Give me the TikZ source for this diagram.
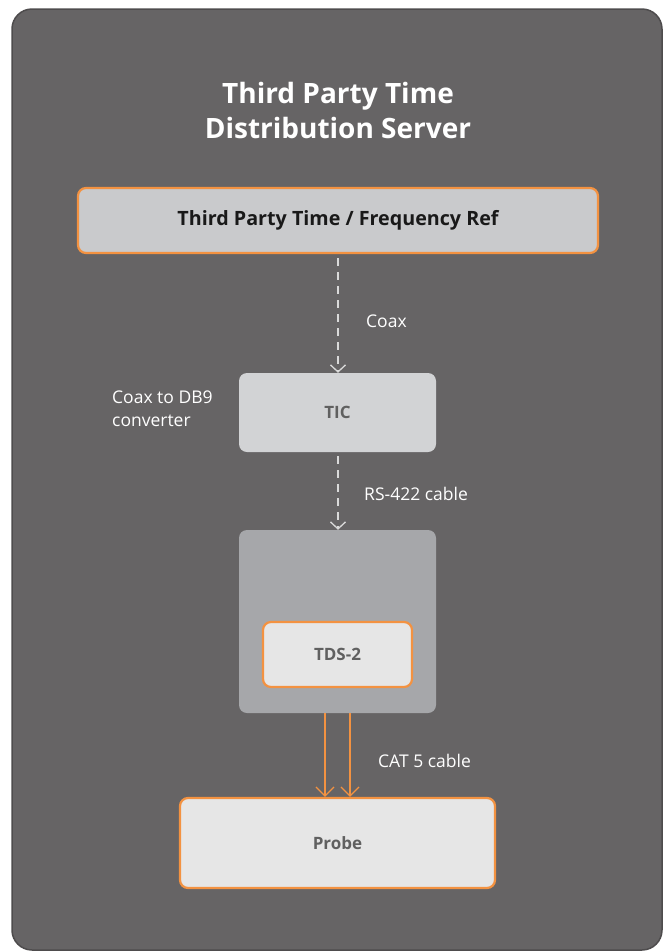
\documentclass[tikz,border=0pt]{standalone}
\usepackage{fontspec}
\setmainfont{Open Sans}
\usetikzlibrary{arrows.meta}
\definecolor{bgdark}{HTML}{666465}
\definecolor{bgedge}{HTML}{4E4C4D}
\definecolor{refgray}{HTML}{C9CACC}
\definecolor{ticgray}{HTML}{D2D3D5}
\definecolor{tdsgray}{HTML}{A6A7AA}
\definecolor{lightbox}{HTML}{E6E6E6}
\definecolor{orangeln}{HTML}{F39241}
\definecolor{boxtext}{HTML}{606060}
\definecolor{dashgray}{HTML}{DADADA}
\tikzset{
  box/.style={rounded corners=8pt, inner sep=0pt, font=\bfseries\fontsize{17}{20}\selectfont, text=boxtext},
  obox/.style={box, draw=orangeln, line width=2.2pt, fill=lightbox},
  dashline/.style={draw=dashgray, line width=1.6pt, dash pattern=on 8pt off 6pt, -{Straight Barb[length=7pt,width=15pt,line width=1.3pt]}},
  catline/.style={draw=orangeln, line width=1.4pt, -{Straight Barb[length=9pt,width=18pt,line width=1.3pt]}},
  lbl/.style={text=white, font=\fontsize{17.5}{23}\selectfont, inner sep=0pt, anchor=west, align=left}
}
\begin{document}
\begin{tikzpicture}[x=1pt, y=-1pt]
\useasboundingbox (0,0) rectangle (668,951);
\fill[white] (0,0) rectangle (668,951);
% outer panel
\draw[fill=bgdark, draw=bgedge, line width=1.5pt, rounded corners=20pt] (12,9) rectangle (662,950);
% title
\node[text=white, font=\bfseries\fontsize{28}{35}\selectfont, align=center] (title) at (338,110) {Third Party Time\\Distribution Server};
% top ref box
\node[box, draw=orangeln, line width=2.2pt, fill=refgray, minimum width=520pt, minimum height=65pt, text=black!90, font=\bfseries\fontsize{19.7}{22}\selectfont] (ref) at (338,220.5) {Third Party Time / Frequency Ref};
% TIC
\node[box, fill=ticgray, minimum width=197pt, minimum height=79pt] (tic) at (337.5,412.5) {TIC};
% TDS outer
\node[box, fill=tdsgray, minimum width=197pt, minimum height=183pt] (tds) at (337.5,621.5) {};
\node[obox, minimum width=149pt, minimum height=65pt] (tds2) at (337.5,654.5) {TDS-2};
% Probe
\node[obox, minimum width=315pt, minimum height=90pt] (probe) at (337.5,843) {Probe};
% connectors
\draw[dashline] (ref.south -| 338,0) ++(0,4) coordinate (c1s) -- (tic.north -| 338,0);
\draw[dashline] (tic.south -| 338,0) ++(0,4) coordinate (c2s) -- (tds.north -| 338,0);
\draw[catline] (tds.south -| 325,0) -- (probe.north -| 325,0);
\draw[catline] (tds.south -| 350,0) -- (probe.north -| 350,0);
% labels
\node[lbl] (lcoax) at (366,321) {Coax};
\node[lbl] (lconv) at (112,409) {Coax to DB9\\converter};
\node[lbl] (lrs) at (364,494) {RS-422 cable};
\node[lbl] (lcat) at (378,761) {CAT 5 cable};
\end{tikzpicture}
\end{document}
